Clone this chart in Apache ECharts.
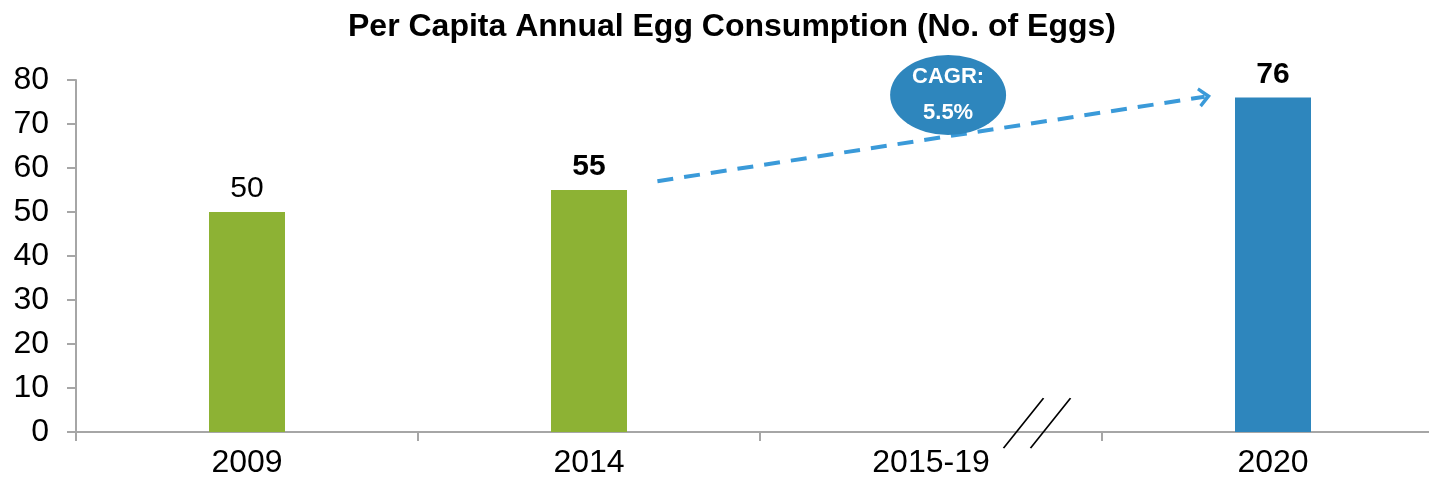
<!DOCTYPE html>
<html>
<head>
<meta charset="utf-8">
<script src="https://cdn.jsdelivr.net/npm/echarts@6/dist/echarts.min.js"></script>
<style>
  html, body { margin: 0; padding: 0; background: #fff; }
  #chart { width: 1429px; height: 487px; }
</style>
</head>
<body>
<div id="chart"></div>
<script>
const categories = ['2009', '2014', '2015-19', '2020']
const values = [50, 55, null, 76]
const boldLabels = ['2014', '2020']
const yTicks = [0, 10, 20, 30, 40, 50, 60, 70, 80]

// annotation anchors, in (category position, value) terms
const cagrText = 'CAGR:\n5.5%'
const cagrBubble = [2.05, 76.6]
const trendArrow = [[1.2, 57], [2.8, 76.2]]
const axisBreak = [2.31, 2]

const green = '#8db234'
const blue = '#2e86bd'
const font = 'Liberation Sans, Arial, sans-serif'

const chart = echarts.init(document.getElementById('chart'))

const barData = values.map((v, i) => ({
  value: v,
  itemStyle: { color: i === 3 ? blue : green },
  label: { fontWeight: boldLabels.includes(categories[i]) ? 'bold' : 'normal' },
}))

chart.setOption({
  animation: false,
  title: {
    text: 'Per Capita Annual Egg Consumption (No. of Eggs)',
    left: 343,
    top: 6,
    textStyle: { fontFamily: font, fontSize: 32, fontWeight: 'bold', color: '#000' },
  },
  grid: { left: 76, top: 80, width: 1368, height: 352, outerBoundsMode: 'none' },
  xAxis: [
    {
      type: 'category',
      data: categories,
      axisLine: { lineStyle: { color: '#a6a6a6', width: 2 } },
      axisTick: { show: true, length: 9, lineStyle: { color: '#a6a6a6', width: 2 } },
      axisLabel: { fontFamily: font, fontSize: 32, color: '#000', margin: 15 },
    },
    { type: 'value', min: -0.5, max: 3.5, show: false },
  ],
  yAxis: {
    type: 'value',
    min: 0,
    max: 80,
    interval: 10,
    splitLine: { show: false },
    axisLine: { show: true, onZero: false, lineStyle: { color: '#a6a6a6', width: 2 } },
    axisTick: { show: true, length: 9, lineStyle: { color: '#a6a6a6', width: 2 } },
    axisLabel: {
      fontFamily: font, fontSize: 32, color: '#000', margin: 27,
      formatter: v => (yTicks.includes(v) ? String(v) : ''),
    },
  },
  series: [
    {
      type: 'bar',
      data: barData,
      barWidth: 76,
      label: {
        show: true,
        position: 'top',
        distance: 8,
        fontFamily: font,
        fontSize: 30,
        color: '#000',
      },
    },
    {
      type: 'scatter',
      xAxisIndex: 1,
      clip: false,
      z: 5,
      data: [],
      markLine: {
        silent: true,
        symbol: ['none', 'path://M0,10L10,0L20,10L17.5,12L10,5L2.5,12Z'],
        symbolSize: [20, 13],
        label: { show: false },
        lineStyle: { color: '#3a9ad9', width: 4, type: [16, 11] },
        data: [[{ coord: trendArrow[0] }, { coord: trendArrow[1] }]],
      },
    },
    {
      type: 'scatter',
      xAxisIndex: 1,
      clip: false,
      z: 6,
      symbol: 'circle',
      symbolSize: [116, 80],
      itemStyle: { color: blue, opacity: 1 },
      label: {
        show: true,
        position: 'inside',
        formatter: cagrText,
        fontFamily: font,
        fontSize: 22,
        fontWeight: 'bold',
        color: '#fff',
        lineHeight: 36,
      },
      data: [cagrBubble],
    },
    {
      type: 'scatter',
      xAxisIndex: 1,
      clip: false,
      z: 7,
      symbol: 'path://M0,50L40,0M27,50L67,0',
      symbolSize: [67, 50],
      itemStyle: { color: 'none', borderColor: '#000', borderWidth: 1.5, opacity: 1 },
      data: [axisBreak],
    },
  ],
})
</script>
</body>
</html>
